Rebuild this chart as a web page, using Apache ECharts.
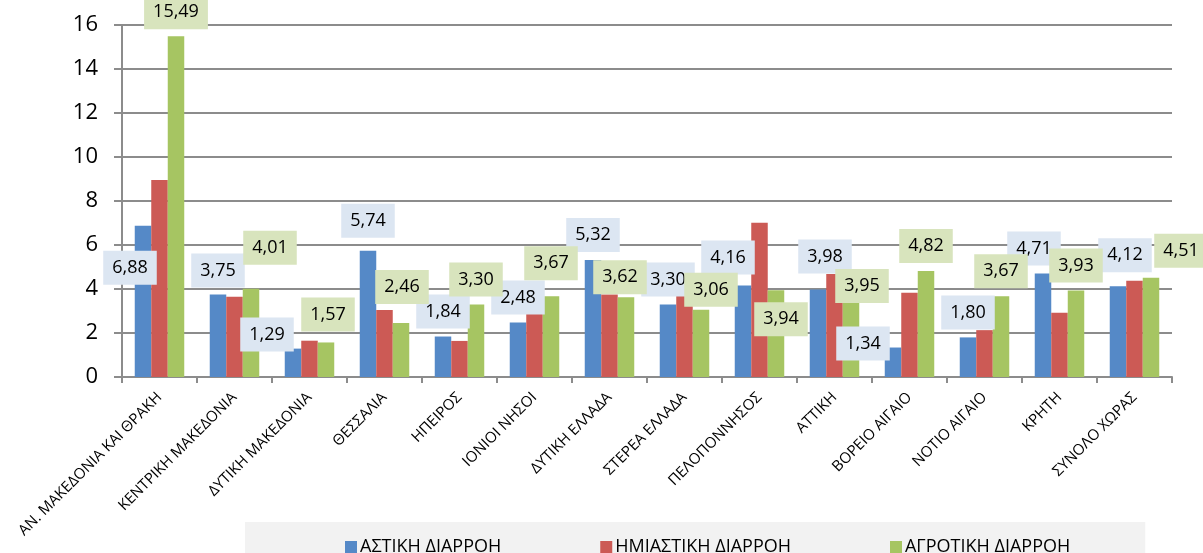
<!DOCTYPE html>
<html>
<head>
<meta charset="utf-8">
<script src="https://cdn.jsdelivr.net/npm/echarts@6/dist/echarts.min.js"></script>
<style>
  html, body { margin: 0; padding: 0; background: #fff; }
  #chart { width: 1203px; height: 553px; }
</style>
</head>
<body>
<div id="chart"></div>
<script>
const regions = [
  'ΑΝ. ΜΑΚΕΔΟΝΙΑ ΚΑΙ ΘΡΑΚΗ', 'ΚΕΝΤΡΙΚΗ ΜΑΚΕΔΟΝΙΑ', 'ΔΥΤΙΚΗ ΜΑΚΕΔΟΝΙΑ', 'ΘΕΣΣΑΛΙΑ',
  'ΗΠΕΙΡΟΣ', 'ΙΟΝΙΟΙ ΝΗΣΟΙ', 'ΔΥΤΙΚΗ ΕΛΛΑΔΑ', 'ΣΤΕΡΕΑ ΕΛΛΑΔΑ', 'ΠΕΛΟΠΟΝΝΗΣΟΣ',
  'ΑΤΤΙΚΗ', 'ΒΟΡΕΙΟ ΑΙΓΑΙΟ', 'ΝΟΤΙΟ ΑΙΓΑΙΟ', 'ΚΡΗΤΗ', 'ΣΥΝΟΛΟ ΧΩΡΑΣ'
]
const seriesNames = ['ΑΣΤΙΚΗ ΔΙΑΡΡΟΗ', 'ΗΜΙΑΣΤΙΚΗ ΔΙΑΡΡΟΗ', 'ΑΓΡΟΤΙΚΗ ΔΙΑΡΡΟΗ']
const urban = [6.88, 3.75, 1.29, 5.74, 1.84, 2.48, 5.32, 3.30, 4.16, 3.98, 1.34, 1.80, 4.71, 4.12]
// no labels in the source for this series
const semiUrban = [8.96, 3.65, 1.65, 3.05, 1.64, 2.90, 3.75, 3.70, 7.01, 4.68, 3.83, 2.13, 2.92, 4.38]
const rural = [15.49, 4.01, 1.57, 2.46, 3.30, 3.67, 3.62, 3.06, 3.94, 3.95, 4.82, 3.67, 3.93, 4.51]
const yTicks = [0, 2, 4, 6, 8, 10, 12, 14, 16]

// label nudges (px) so the boxes sit where the original placed them
const urbanNudge = [[-13, 66], [0, 0], [-26, 10], [0, -6], [0, -1], [0, -1], [0, -1], [0, -1],
  [-15, -4], [7, -9], [-30, 20], [0, -1], [-9, -1], [7, -7]]
const ruralNudge = [[0, 0], [19, -17], [2, -4], [1, -12], [0, -1], [0, -9], [-6, 4], [10, 4],
  [5, 53], [11, 20], [0, -1], [0, -1], [0, -1], [30, -3]]

const FONT = '"Open Sans", sans-serif'
const fmt = v => v.toFixed(2).replace('.', ',')

const boxLabel = (bg) => ({
  show: true,
  position: 'top',
  distance: 7,
  fontFamily: FONT,
  fontSize: 18,
  color: '#000',
  backgroundColor: bg,
  padding: [8, 9],
  formatter: p => fmt(p.value)
})

const chart = echarts.init(document.getElementById('chart'))

chart.setOption({
  animation: false,
  textStyle: { fontFamily: FONT },
  grid: { left: 122, right: 31, top: 25, bottom: 176 },
  legend: {
    data: seriesNames,
    left: 245,
    top: 522,
    padding: [16, 75, 10, 100],
    backgroundColor: '#f2f2f2',
    icon: 'rect',
    itemWidth: 12,
    itemHeight: 12,
    itemGap: 99,
    textStyle: { fontFamily: FONT, fontSize: 18, color: '#000', padding: [0, 0, 0, -2] }
  },
  xAxis: {
    type: 'category',
    data: regions,
    axisLine: { lineStyle: { color: '#8c8c8c', width: 2 } },
    axisTick: { show: true, length: 6, alignWithLabel: false, lineStyle: { color: '#8c8c8c', width: 2 } },
    axisLabel: { interval: 0, rotate: 45, margin: 18, fontSize: 15, color: '#000', fontFamily: FONT }
  },
  yAxis: {
    type: 'value',
    min: 0,
    max: 16,
    interval: 2,
    axisLine: { show: true, lineStyle: { color: '#8c8c8c', width: 2 } },
    axisTick: { show: true, length: 8, lineStyle: { color: '#8c8c8c', width: 2 } },
    splitLine: { lineStyle: { color: '#8c8c8c', width: 2 } },
    axisLabel: {
      margin: 24, fontSize: 22, color: '#000', fontFamily: FONT,
      formatter: v => yTicks.includes(v) ? String(v) : ''
    }
  },
  series: [
    {
      name: seriesNames[0],
      type: 'bar',
      barWidth: 16.5,
      barGap: '0%',
      itemStyle: { color: '#5589c7' },
      label: boxLabel('#dce6f2'),
      data: urban.map((v, i) => ({ value: v, label: { offset: urbanNudge[i] } }))
    },
    {
      name: seriesNames[1],
      type: 'bar',
      barWidth: 16.5,
      barGap: '0%',
      itemStyle: { color: '#cc5a55' },
      data: semiUrban
    },
    {
      name: seriesNames[2],
      type: 'bar',
      barWidth: 16.5,
      barGap: '0%',
      itemStyle: { color: '#a6c562' },
      label: boxLabel('#d8e4bd'),
      data: rural.map((v, i) => ({ value: v, label: { offset: ruralNudge[i] } }))
    }
  ]
})

window.addEventListener('resize', () => chart.resize())
</script>
</body>
</html>
